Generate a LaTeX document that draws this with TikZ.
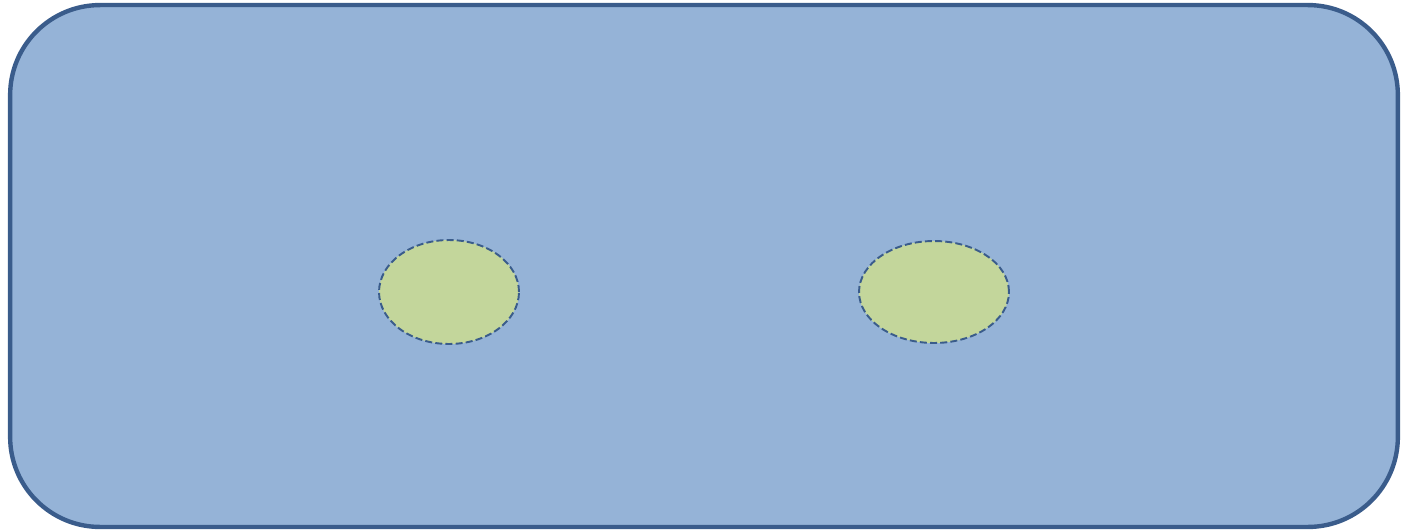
\documentclass[tikz,border=0pt]{standalone}
\usepackage{tikz}
\usetikzlibrary{shapes.geometric}
\definecolor{paneblue}{HTML}{95B3D7}
\definecolor{paneedge}{HTML}{3A5C8B}
\definecolor{spotgreen}{HTML}{C3D69B}

\tikzset{
  pane/.style={draw=paneedge, fill=paneblue, line width=2.5pt, rounded corners=1.8cm, inner sep=0pt},
  spot/.style={ellipse, draw=paneedge, fill=spotgreen, dash pattern=on 4pt off 1.8pt, line width=1.1pt, inner sep=0pt}
}

\begin{document}
\begin{tikzpicture}[x=0.02cm, y=-0.02cm]
  \useasboundingbox (0,0) rectangle (1403,531);
  % outer panel
  \node[pane, minimum width=27.76cm, minimum height=10.44cm] (panel) at (704,266) {};
  % two spots
  \node[spot, minimum width=2.8cm, minimum height=2.08cm] (left) at (449,292) {};
  \node[spot, minimum width=3.0cm, minimum height=2.04cm] (right) at (934,292) {};
\end{tikzpicture}
\end{document}
